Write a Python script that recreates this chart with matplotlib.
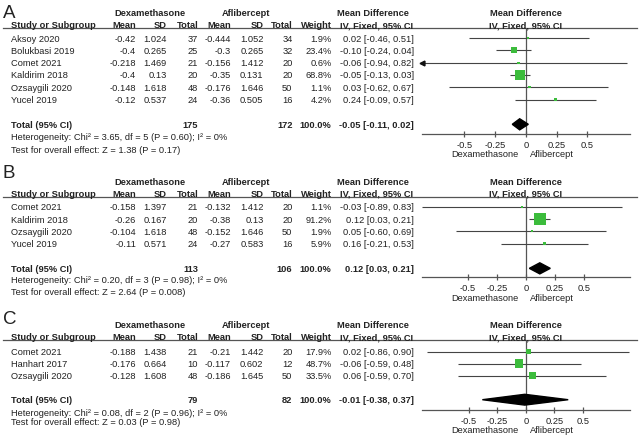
import numpy as np
import matplotlib.pyplot as plt
from matplotlib.lines import Line2D

plt.rcParams['font.family'] = ['Liberation Sans', 'DejaVu Sans']

W, H = 642, 439
FS = 6.7
TXT = '#222222'
LINE = '#555555'
GREEN = '#3cbc3c'

# ---- panel A data ----
a_study = ['Aksoy 2020', 'Bolukbasi 2019', 'Comet 2021', 'Kaldirim 2018', 'Ozsaygili 2020', 'Yucel 2019']
a_dex_mean = [-0.42, -0.4, -0.218, -0.4, -0.148, -0.12]
a_dex_sd = [1.024, 0.265, 1.469, 0.13, 1.618, 0.537]
a_dex_n = [37, 25, 21, 20, 48, 24]
a_afl_mean = [-0.444, -0.3, -0.156, -0.35, -0.176, -0.36]
a_afl_sd = [1.052, 0.265, 1.412, 0.131, 1.646, 0.505]
a_afl_n = [34, 32, 20, 20, 50, 16]
a_weight = [1.9, 23.4, 0.6, 68.8, 1.1, 4.2]
a_md = [0.02, -0.10, -0.06, -0.05, 0.03, 0.24]
a_lo = [-0.46, -0.24, -0.94, -0.13, -0.62, -0.09]
a_hi = [0.51, 0.04, 0.82, 0.03, 0.67, 0.57]
a_total = (175, 172, -0.05, -0.11, 0.02)
a_het = 'Heterogeneity: Chi² = 3.65, df = 5 (P = 0.60); I² = 0%'
a_test = 'Test for overall effect: Z = 1.38 (P = 0.17)'

# ---- panel B data ----
b_study = ['Comet 2021', 'Kaldirim 2018', 'Ozsaygili 2020', 'Yucel 2019']
b_dex_mean = [-0.158, -0.26, -0.104, -0.11]
b_dex_sd = [1.397, 0.167, 1.618, 0.571]
b_dex_n = [21, 20, 48, 24]
b_afl_mean = [-0.132, -0.38, -0.152, -0.27]
b_afl_sd = [1.412, 0.13, 1.646, 0.583]
b_afl_n = [20, 20, 50, 16]
b_weight = [1.1, 91.2, 1.9, 5.9]
b_md = [-0.03, 0.12, 0.05, 0.16]
b_lo = [-0.89, 0.03, -0.60, -0.21]
b_hi = [0.83, 0.21, 0.69, 0.53]
b_total = (113, 106, 0.12, 0.03, 0.21)
b_het = 'Heterogeneity: Chi² = 0.20, df = 3 (P = 0.98); I² = 0%'
b_test = 'Test for overall effect: Z = 2.64 (P = 0.008)'

# ---- panel C data ----
c_study = ['Comet 2021', 'Hanhart 2017', 'Ozsaygili 2020']
c_dex_mean = [-0.188, -0.176, -0.128]
c_dex_sd = [1.438, 0.664, 1.608]
c_dex_n = [21, 10, 48]
c_afl_mean = [-0.21, -0.117, -0.186]
c_afl_sd = [1.442, 0.602, 1.645]
c_afl_n = [20, 12, 50]
c_weight = [17.9, 48.7, 33.5]
c_md = [0.02, -0.06, 0.06]
c_lo = [-0.86, -0.59, -0.59]
c_hi = [0.90, 0.48, 0.70]
c_total = (79, 82, -0.01, -0.38, 0.37)
c_het = 'Heterogeneity: Chi² = 0.08, df = 2 (P = 0.96); I² = 0%'
c_test = 'Test for overall effect: Z = 0.03 (P = 0.98)'

tick_vals = [-0.5, -0.25, 0, 0.25, 0.5]
tick_labels = ['-0.5', '-0.25', '0', '0.25', '0.5']

fig = plt.figure(figsize=(W / 100, H / 100), dpi=100)


def put(x, y, s, ha='left', bold=False, size=FS, **kw):
    fig.text(x / W, 1 - y / H, s, ha=ha, va='center', fontsize=size,
             fontweight='bold' if bold else 'normal', color=TXT, **kw)


def panel(letter, lay, study, dm, dsd, dn, am, asd, an, wt, md, lo, hi, total, het, test):
    n = len(study)
    y_of = lambda i: lay['row0'] + i * lay['sp']

    put(3, lay['letter'], letter, size=13.5, family=['Liberation Sans Narrow', 'Liberation Sans'])
    put(150, lay['grp'], 'Dexamethasone', ha='center', bold=True)
    put(245.5, lay['grp'], 'Aflibercept', ha='center', bold=True)
    put(373, lay['grp'], 'Mean Difference', ha='center', bold=True)
    put(526, lay['grp'], 'Mean Difference', ha='center', bold=True)

    cy = lay['col']
    put(11, cy, 'Study or Subgroup', bold=True)
    for x, s in [(136, 'Mean'), (166.7, 'SD'), (199, 'Total'), (231, 'Mean'),
                 (263.5, 'SD'), (293, 'Total'), (332, 'Weight')]:
        put(x, cy, s, ha='right', bold=True)
    put(377, cy, 'IV, Fixed, 95% CI', ha='center', bold=True)
    put(526, cy, 'IV, Fixed, 95% CI', ha='center', bold=True)

    fig.add_artist(Line2D([3 / W, 637 / W], [1 - lay['hline'] / H] * 2, color=LINE, lw=0.9))

    for i in range(n):
        y = y_of(i)
        put(11, y, study[i])
        put(136, y, str(dm[i]), ha='right')
        put(166.7, y, str(dsd[i]), ha='right')
        put(198, y, str(dn[i]), ha='right')
        put(231, y, str(am[i]), ha='right')
        put(263.5, y, str(asd[i]), ha='right')
        put(292.5, y, str(an[i]), ha='right')
        put(331.5, y, f'{wt[i]:.1f}%', ha='right')
        put(414, y, f'{md[i]:.2f} [{lo[i]:.2f}, {hi[i]:.2f}]', ha='right')

    yt = y_of(n + 1)
    tn_d, tn_a, tmd, tlo, thi = total
    put(11, yt, 'Total (95% CI)', bold=True)
    put(198, yt, str(tn_d), ha='right', bold=True)
    put(292.5, yt, str(tn_a), ha='right', bold=True)
    put(331.5, yt, '100.0%', ha='right', bold=True)
    put(414, yt, f'{tmd:.2f} [{tlo:.2f}, {thi:.2f}]', ha='right', bold=True)
    put(11, lay['het'], het)
    put(11, lay['test'], test)

    # forest plot
    left, right = 421.7, 630
    top, bot = lay['hline'], lay['axis']
    ax = fig.add_axes([left / W, 1 - bot / H, (right - left) / W, (bot - top) / H])
    xm = lay['xlim']
    ax.set_xlim(-xm, xm)
    ax.set_ylim((bot - lay['row0']) / lay['sp'], (top - lay['row0']) / lay['sp'])
    ax.patch.set_alpha(0)
    for s in ['top', 'left', 'right']:
        ax.spines[s].set_visible(False)
    ax.spines['bottom'].set_color(LINE)
    ax.spines['bottom'].set_linewidth(0.9)
    ax.set_yticks([])
    ax.set_xticks(tick_vals)
    ax.set_xticklabels(tick_labels)
    ax.tick_params(axis='x', direction='inout', length=5, width=0.9, color=LINE,
                   labelsize=FS, labelcolor=TXT, pad=1.5)
    ax.axvline(0, color=LINE, lw=0.9)

    idx = np.arange(n)
    lo_a, hi_a = np.array(lo), np.array(hi)
    ax.hlines(idx, np.maximum(lo_a, -xm), np.minimum(hi_a, xm), color='#444444', lw=0.8)
    for i in idx:
        if lo_a[i] < -xm:
            ax.plot(-xm, i, marker='<', ms=3.5, color='#111111', clip_on=False)
        if hi_a[i] > xm:
            ax.plot(xm, i, marker='>', ms=3.5, color='#111111', clip_on=False)
    ax.scatter(md, idx, marker='s', s=np.maximum(0.8 * np.array(wt), 2.5),
               color=GREEN, linewidths=0, zorder=3)
    ax.fill([tlo, tmd, thi, tmd], [n + 1, n + 1 - 0.45, n + 1, n + 1 + 0.45],
            color='black', zorder=3)

    zero_px = left + (right - left) / 2
    put(zero_px - 7, lay['side'], 'Dexamethasone', ha='right')
    put(zero_px + 4, lay['side'], 'Aflibercept', ha='left')


lay_a = dict(letter=13.5, grp=13.3, col=25.7, hline=29.3, row0=39, sp=12.33,
             het=137.3, test=150.3, axis=135, side=155, xlim=0.845)
lay_b = dict(letter=174, grp=182.3, col=194.3, hline=197.7, row0=207.7, sp=12.33,
             het=280.3, test=292.3, axis=278.3, side=298.3, xlim=0.895)
lay_c = dict(letter=319, grp=325, col=337.7, hline=341, row0=352.7, sp=12,
             het=413.3, test=422.7, axis=411, side=431, xlim=0.91)

panel('A', lay_a, a_study, a_dex_mean, a_dex_sd, a_dex_n, a_afl_mean, a_afl_sd, a_afl_n,
      a_weight, a_md, a_lo, a_hi, a_total, a_het, a_test)
panel('B', lay_b, b_study, b_dex_mean, b_dex_sd, b_dex_n, b_afl_mean, b_afl_sd, b_afl_n,
      b_weight, b_md, b_lo, b_hi, b_total, b_het, b_test)
panel('C', lay_c, c_study, c_dex_mean, c_dex_sd, c_dex_n, c_afl_mean, c_afl_sd, c_afl_n,
      c_weight, c_md, c_lo, c_hi, c_total, c_het, c_test)

fig.savefig('out.png', dpi=100)
